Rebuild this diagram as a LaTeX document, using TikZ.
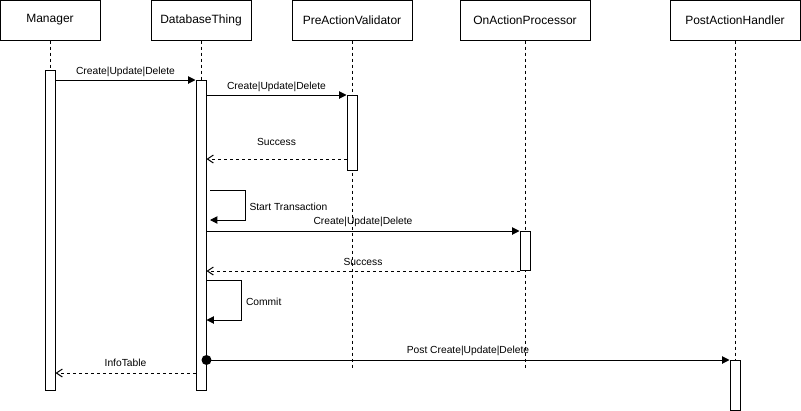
\documentclass[tikz,border=0pt]{standalone}
\usepackage{fontspec}
\setmainfont{Liberation Sans}
\usetikzlibrary{arrows.meta}

\begin{document}
\begin{tikzpicture}[x=0.75pt,y=-0.75pt,
	actor/.style={draw,line width=0.75pt,minimum height=30pt,inner sep=0pt,font=\fontsize{9}{11}\selectfont},
	act/.style={draw,fill=white,line width=0.75pt,minimum width=7.5pt,inner sep=0pt,anchor=north},
	life/.style={dash pattern=on 2.25pt off 2.25pt,line width=0.75pt},
	call/.style={-{Triangle[length=5.5pt,width=5.5pt]},line width=0.75pt},
	reply/.style={-{Straight Barb[length=4.5pt,width=6pt]},dash pattern=on 2.25pt off 2.25pt,line width=0.75pt},
	lbl/.style={font=\fontsize{7.7}{9}\selectfont,inner sep=0pt},
	startdot/.style={circle,fill,inner sep=0pt,minimum size=7.5pt}]
	%
	\def\px{0.75pt}
	\useasboundingbox (0,0) rectangle (801,411);
	% participants
		\foreach \name/\x/\w/\label in {man/50/100/Manager,db/201/100/DatabaseThing,pre/352/120/PreActionValidator,on/525/130/OnActionProcessor,post/735/130/PostActionHandler}%
			\node [actor,minimum width=\w*\px] (\name) at (\x,20) {\label};
	% lifelines
		\foreach \name/\y in {man/390,db/390,pre/368,on/368,post/360}
			\draw [life] (\name.south) -- (\name.south |- 0,\y);
	% activations
		\foreach \name/\x/\top/\bot in {man/50/70/390,db/201/80/390,pre/352/95/170,on/525/231/270,post/735/360/410}
			\node [act,minimum height=(\bot-\top)*\px] (\name act) at (\x,\top) {};
	% validation
		\draw [call] (manact.east |- 0,80) -- (dbact.north west)
			node [lbl,midway,yshift=6pt] {Create|Update|Delete};
		\draw [call] (dbact.east |- 0,95) -- (preact.north west)
			node [lbl,midway,yshift=6pt] {Create|Update|Delete};
		\draw [reply] (preact.west |- 0,159) -- (dbact.east |- 0,159)
			node [lbl,midway,yshift=12.75pt] {Success};
	% transaction
		\coordinate (tstart) at (210,190);
		\draw [call] (tstart) -- ++(35,0) -- ++(0,30)
			node [lbl,midway,anchor=west,xshift=3pt,yshift=-1.2pt] {Start Transaction} -- (tstart |- 0,220);
		\draw [call] (dbact.east |- 0,231) -- (onact.north west)
			node [lbl,midway,yshift=7pt] {Create|Update|Delete};
		\draw [reply] (onact.south west) -- (dbact.east |- onact.south west)
			node [lbl,midway,yshift=6.75pt] {Success};
		\coordinate (cstart) at (dbact.east |- 0,280);
		\draw [call] (cstart) -- ++(35,0) -- ++(0,40)
			node [lbl,midway,anchor=west,xshift=3pt,yshift=-1.2pt] {Commit} -- (cstart |- 0,320);
	% post action
		\node [startdot] (pdot) at (dbact.east |- 0,360) {};
		\draw [call] (pdot.center) -- (postact.north west)
			node [lbl,midway,yshift=6.75pt] {Post Create|Update|Delete};
		\draw [reply] (dbact.west |- 0,373) -- (manact.east |- 0,373)
			node [lbl,midway,yshift=8pt] {InfoTable};
\end{tikzpicture}
\end{document}
